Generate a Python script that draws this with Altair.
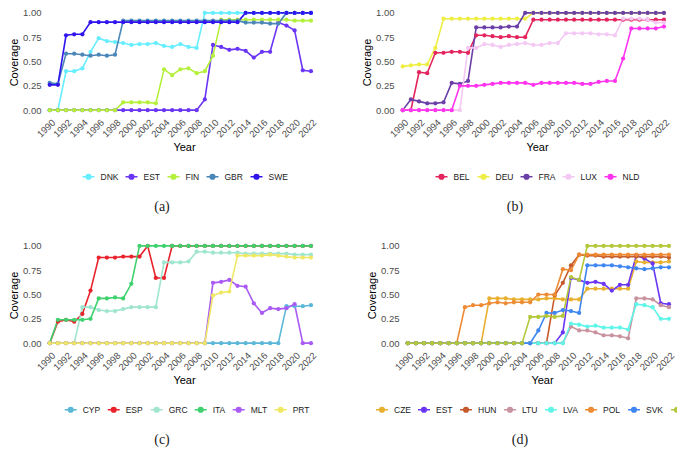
import altair as alt
import pandas as pd

years = list(range(1990, 2023))
tick_years = list(range(1990, 2023, 2))
y_ticks = [0.0, 0.25, 0.5, 0.75, 1.0]

# ---------- Panel (a) ----------
a_countries = ["DNK", "EST", "FIN", "GBR", "SWE"]
a_colors = ["#66EEFF", "#6A35F5", "#B5F03C", "#4A86B8", "#2F14EE"]
a_DNK = [0, 0, .40, .40, .43, .60, .74, .71, .70, .69, .67, .68, .68, .69, .66, .65, .68, .65, .64] + [1.0] * 14
a_EST = [0] * 19 + [.11, .67, .65, .62, .63, .61, .54, .60, .60, .90, .87, .82, .41, .40]
a_FIN = [0] * 9 + [.08, .08, .08, .08, .07, .42, .36, .42, .43, .38, .40, .56] + [.93] * 9 + [.92, .92, .92]
a_GBR = [.28, .27, .58, .58, .57, .56, .57, .56, .57] + [.92] * 15 + [.90, .90, .90, .89, .89] + [1.0] * 4
a_SWE = [.26, .26, .77, .78, .78] + [.905] * 19 + [1.0] * 9

# ---------- Panel (b) ----------
b_countries = ["BEL", "DEU", "FRA", "LUX", "NLD"]
b_colors = ["#E4245C", "#EEEE44", "#6B3FA8", "#F4C8F4", "#FF33EE"]
b_BEL = [0, 0, .39, .38, .59, .59, .60, .60, .59, .77, .77, .76, .75, .76, .75, .75] + [.93] * 17
b_DEU = [.45, .46, .47, .47, .64] + [.94] * 11 + [1.0] * 17
b_FRA = [0, .11, .09, .07, .07, .08, .28, .27, .30, .85, .85, .85, .85, .86, .86] + [1.0] * 18
b_LUX = [0] * 8 + [.64, .64, .68, .67, .65, .67, .68, .69, .67, .67, .69, .69,
                   .79, .79, .79, .79, .78, .78, .77, .94, .94, .94, .93, .90, .90]
b_NLD = [0] * 7 + [.25, .25, .25, .26, .27, .28, .28, .28, .28, .26, .28, .28, .28, .28, .28,
                   .27, .27, .29, .30, .30, .53, .84, .84, .84, .84, .86]

# ---------- Panel (c) ----------
c_countries = ["CYP", "ESP", "GRC", "ITA", "MLT", "PRT"]
c_colors = ["#5BB8D9", "#E8232B", "#9FE5CF", "#3FD16E", "#AA5AF5", "#F0E862"]
c_CYP = [0] * 29 + [.38, .38, .38, .39]
c_ESP = [0, .22, .24, .22, .30, .54, .88, .88, .88, .89, .89, .89, 1.0, .67, .67] + [1.0] * 18
c_GRC = [0] * 4 + [.37, .37, .34, .33, .33, .35, .37, .37, .37, .37, .83, .83, .83, .84,
                   .94, .94, .93, .93, .93, .93, .92, .92, .92, .92, .92, .92, .91, .91, .91]
c_ITA = [0, .24, .24, .24, .24, .25, .46, .46, .47, .46, .61] + [1.0] * 22
c_MLT = [0] * 20 + [.62, .63, .65, .59, .58, .41, .31, .36, .35, .36, .40, 0, 0]
c_PRT = [0] * 20 + [.49, .52, .53, .90, .90, .90, .90, .91, .90, .89, .88, .88, .88]

# ---------- Panel (d) ----------
d_countries = ["CZE", "EST", "HUN", "LTU", "LVA", "POL", "SVK", "SVN"]
d_colors = ["#E8B02E", "#6A35F5", "#C65A2C", "#C8929F", "#60F5E9", "#EE8A34", "#3F86F2", "#B4C83A"]
d_CZE = [0] * 10 + [.46, .46, .46, .45, .45, .45, .45, .46, .46, .45, .45, .45,
                    .56, .56, .56, .56, .56, .56, .84, .83, .83, .83, .84]
d_EST = a_EST
d_HUN = [0] * 18 + [.49, .62, .80, .91, .90, .90, .89, .89, .89, .89, .89, .89, .89, .89, .88]
d_LTU = [0] * 20 + [.17, .13, .13, .11, .08, .08, .07, .05, .46, .46, .45, .39, .37]
d_LVA = [0] * 20 + [.20, .19, .17, .18, .16, .16, .16, .14, .40, .39, .37, .25, .25]
d_POL = [0] * 7 + [.37, .39, .39, .41, .42, .41, .42, .42, .42, .50, .50, .50, .76, .75] + [.91] * 12
d_SVK = [0] * 16 + [.13, .31, .31, .34, .33, .31, .80, .80, .80, .80, .79, .78, .77, .76, .77, .78, .78]
d_SVN = [0] * 15 + [.27, .27, .28, .27, .28, .68, .65] + [1.0] * 11

captions = ["(a)", "(b)", "(c)", "(d)"]

# ---------- layout constants ----------
X0, X1 = 1989.3, 2023.6
W, H = 280, 106
Y0, Y1 = -0.05, 1.04
LEG_PATH = "M-1,0H1M0.38,0A0.38,0.38,0,1,1,-0.38,0A0.38,0.38,0,1,1,0.38,0Z"


def panel(countries, colors, series, caption, legend_x):
    rows = []
    for c, vals in zip(countries, series):
        for yr, v in zip(years, vals):
            rows.append({"Country": c, "Year": yr, "Coverage": v})
    df = pd.DataFrame(rows)
    color = alt.Color(
        "Country:N",
        scale=alt.Scale(domain=countries, range=colors),
        legend=alt.Legend(
            orient="none", legendX=legend_x, legendY=160.5, direction="horizontal",
            columns=len(countries), title=None, symbolType=LEG_PATH, symbolSize=144,
            symbolStrokeWidth=1.6, labelFont="Liberation Sans", labelFontSize=8.5,
            labelColor="#1A1A1A", labelOffset=5, columnPadding=3,
        ),
    )
    x = alt.X(
        "Year:Q",
        scale=alt.Scale(domain=[X0, X1], nice=False, zero=False),
        axis=alt.Axis(values=tick_years, format="d", labelAngle=-45, labelAlign="right",
                      labelBaseline="top", labelPadding=2, titlePadding=3,
                      labelOverlap=False, labelFlush=False, title="Year"),
    )
    y = alt.Y(
        "Coverage:Q",
        scale=alt.Scale(domain=[Y0, Y1], nice=False, zero=False),
        axis=alt.Axis(values=y_ticks, format=".2f", labelPadding=3, titlePadding=3,
                      title="Coverage"),
    )
    base = alt.Chart(df).encode(x=x, y=y, color=color)
    lines = base.mark_line(strokeWidth=1.6)
    pts = base.mark_circle(size=18, opacity=1)
    cap = alt.Chart(pd.DataFrame({"cap": [caption]})).mark_text(
        font="Liberation Serif", fontSize=14, color="#222222", baseline="middle", align="center"
    ).encode(x=alt.value(118), y=alt.value(198), text="cap:N")
    return alt.layer(lines, pts, cap).properties(width=W, height=H)


pa = panel(a_countries, a_colors, [a_DNK, a_EST, a_FIN, a_GBR, a_SWE], captions[0], 37.5)
pb = panel(b_countries, b_colors, [b_BEL, b_DEU, b_FRA, b_LUX, b_NLD], captions[1], 37.5)
pc = panel(c_countries, c_colors, [c_CYP, c_ESP, c_GRC, c_ITA, c_MLT, c_PRT], captions[2], 19.7)
pd_ = panel(d_countries, d_colors, [d_CZE, d_EST, d_HUN, d_LTU, d_LVA, d_POL, d_SVK, d_SVN], captions[3], -27)

top = alt.hconcat(pa, pb, spacing=37).resolve_scale(color="independent")
bottom = alt.hconcat(pc, pd_, spacing=42).resolve_scale(color="independent")

chart = alt.vconcat(top, bottom, spacing=26).resolve_scale(color="independent").properties(
    autosize=alt.AutoSizeParams(type="none"),
    padding={"left": 36, "top": 1, "right": 633, "bottom": 442},
    background="white",
).configure_view(stroke=None).configure_axis(
    domain=False, ticks=False, grid=False,
    labelFont="Liberation Sans", labelFontSize=9.5, labelColor="#4D4D4D",
    titleFont="Liberation Sans", titleFontSize=11, titleColor="#000000", titleFontWeight="normal",
)

chart.save("out.html", embed_options={"renderer": "svg", "actions": False})
